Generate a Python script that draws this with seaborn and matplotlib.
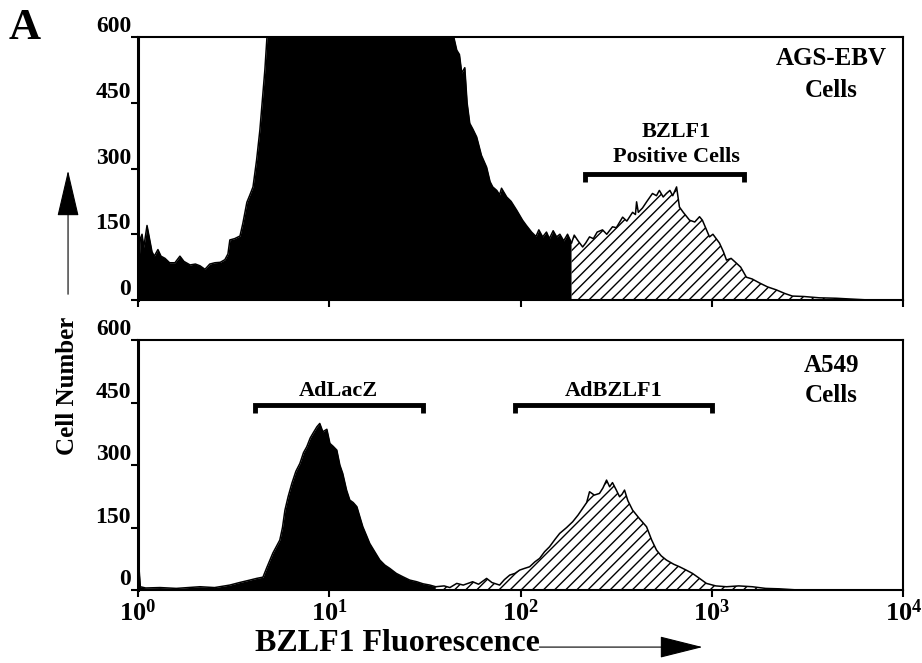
import matplotlib
matplotlib.use('Agg')
import matplotlib.pyplot as plt
import seaborn as sns
import numpy as np

# Top panel: AGS-EBV cells (log10 fluorescence, cell number)
ags_neg_log = [0.000, 0.004, 0.012, 0.021, 0.030, 0.047, 0.060, 0.073, 0.085, 0.104, 0.120,
               0.141, 0.165, 0.193, 0.219, 0.240, 0.272, 0.300, 0.324, 0.350, 0.375, 0.402,
               0.430, 0.454, 0.470, 0.480, 0.505, 0.533, 0.548, 0.569, 0.585, 0.601, 0.620,
               0.637, 0.663, 0.680, 0.750, 0.900, 1.100, 1.300, 1.500, 1.620, 1.645, 1.666,
               1.680, 1.692, 1.708, 1.720, 1.734, 1.750, 1.770, 1.795, 1.822, 1.840, 1.854,
               1.875, 1.890, 1.900, 1.927, 1.950, 1.979, 2.010, 2.030, 2.057, 2.080, 2.095,
               2.115, 2.135, 2.150, 2.170, 2.188, 2.205, 2.225, 2.245, 2.266]
ags_neg_cnt = [500, 75, 140, 150, 120, 170, 140, 110, 100, 115, 100,
               95, 85, 85, 100, 88, 80, 82, 78, 70, 82, 85,
               86, 92, 105, 137, 140, 146, 175, 223, 240, 258, 320,
               388, 525, 640, 780, 900, 950, 900, 750, 640, 610, 570,
               560, 518, 530, 450, 403, 390, 372, 330, 303, 270, 258,
               250, 240, 255, 235, 225, 205, 182, 170, 155, 145, 160,
               144, 155, 140, 158, 144, 150, 135, 150, 130]

ags_pos_log = [2.266, 2.280, 2.300, 2.324, 2.340, 2.360, 2.380, 2.400, 2.428, 2.450, 2.480,
               2.500, 2.533, 2.555, 2.585, 2.600, 2.606, 2.615, 2.637, 2.660, 2.689, 2.710,
               2.725, 2.745, 2.762, 2.780, 2.795, 2.815, 2.830, 2.850, 2.883, 2.910, 2.935,
               2.950, 2.987, 3.005, 3.039, 3.060, 3.076, 3.100, 3.128, 3.150, 3.180, 3.210,
               3.248, 3.290, 3.337, 3.380, 3.420, 3.480, 3.561, 3.650, 3.734, 3.822]
ags_pos_cnt = [130, 148, 135, 121, 130, 144, 140, 155, 160, 150, 167,
               165, 189, 180, 200, 195, 224, 200, 210, 225, 243, 238,
               250, 235, 243, 250, 238, 258, 212, 200, 182, 178, 190,
               182, 144, 150, 130, 110, 91, 95, 84, 75, 52, 48,
               39, 30, 23, 15, 9, 8, 5, 4, 2, 0]

# Bottom panel: A549 cells
lacz_log = [0.000, 0.004, 0.012, 0.040, 0.115, 0.200, 0.324, 0.400, 0.480, 0.530, 0.585,
            0.620, 0.653, 0.674, 0.705, 0.741, 0.755, 0.768, 0.785, 0.804, 0.825, 0.846,
            0.865, 0.882, 0.900, 0.914, 0.935, 0.950, 0.966, 0.987, 1.003, 1.020, 1.039,
            1.055, 1.070, 1.090, 1.107, 1.125, 1.144, 1.160, 1.175, 1.195, 1.211, 1.240,
            1.264, 1.290, 1.316, 1.350, 1.384, 1.420, 1.457, 1.490, 1.525, 1.556]
lacz_cnt = [340, 60, 8, 5, 6, 4, 8, 6, 12, 18, 24,
            28, 31, 55, 89, 120, 150, 192, 225, 256, 285, 304,
            330, 344, 365, 376, 392, 400, 380, 386, 352, 345, 336,
            300, 280, 240, 216, 210, 200, 175, 152, 130, 112, 90,
            72, 60, 52, 40, 32, 24, 20, 15, 12, 8]

bzlf1_log = [1.556, 1.600, 1.630, 1.666, 1.700, 1.749, 1.780, 1.822, 1.850, 1.890, 1.915,
             1.943, 1.970, 1.995, 2.020, 2.047, 2.075, 2.099, 2.125, 2.151, 2.180, 2.204,
             2.240, 2.272, 2.300, 2.324, 2.345, 2.360, 2.385, 2.412, 2.430, 2.449, 2.465,
             2.480, 2.500, 2.517, 2.530, 2.543, 2.560, 2.585, 2.620, 2.658, 2.685, 2.710,
             2.735, 2.762, 2.800, 2.830, 2.865, 2.898, 2.935, 2.971, 3.020, 3.076, 3.140,
             3.211, 3.280, 3.352, 3.457]
bzlf1_cnt = [8, 10, 6, 16, 12, 20, 14, 28, 18, 12, 25,
             36, 40, 48, 52, 56, 68, 76, 92, 104, 122, 136,
             150, 164, 180, 196, 210, 236, 228, 232, 245, 264, 248,
             258, 240, 224, 230, 240, 215, 192, 172, 152, 120, 96,
             82, 72, 62, 56, 48, 40, 28, 16, 10, 8, 10,
             8, 4, 3, 0]

yticks = [0, 150, 300, 450, 600]
xticks = [1, 10, 100, 1000, 10000]
xtick_labels = [r'$10^{0}$', r'$10^{1}$', r'$10^{2}$', r'$10^{3}$', r'$10^{4}$']

sns.set_style('ticks')
plt.rcParams['font.family'] = ['Liberation Serif', 'DejaVu Serif']
plt.rcParams['font.weight'] = 'bold'
plt.rcParams['text.color'] = 'black'
plt.rcParams['axes.labelcolor'] = 'black'
plt.rcParams['axes.edgecolor'] = 'black'
plt.rcParams['xtick.color'] = 'black'
plt.rcParams['ytick.color'] = 'black'
plt.rcParams['mathtext.fontset'] = 'custom'
plt.rcParams['mathtext.rm'] = 'Liberation Serif:bold'
plt.rcParams['mathtext.it'] = 'Liberation Serif:bold'
plt.rcParams['mathtext.bf'] = 'Liberation Serif:bold'
plt.rcParams['mathtext.default'] = 'rm'
plt.rcParams['hatch.linewidth'] = 1.0
plt.rcParams['hatch.color'] = 'black'

fig = plt.figure(figsize=(9.22, 6.63), dpi=100)
ax1 = fig.add_axes([0.1497, 0.5475, 0.830, 0.3967])
ax2 = fig.add_axes([0.1497, 0.110, 0.830, 0.377])


def draw(ax, logs, cnts, hatched):
    x = 10 ** np.array(logs)
    if hatched:
        ax.fill_between(x, cnts, facecolor='white', edgecolor='black', hatch='///', linewidth=0)
    else:
        ax.fill_between(x, cnts, color='black', linewidth=0)
    sns.lineplot(x=x, y=cnts, ax=ax, color='black', linewidth=1.1, sort=False)


draw(ax1, ags_neg_log, ags_neg_cnt, False)
draw(ax1, ags_pos_log, ags_pos_cnt, True)
draw(ax2, lacz_log, lacz_cnt, False)
draw(ax2, bzlf1_log, bzlf1_cnt, True)

for ax in (ax1, ax2):
    ax.set_xscale('log')
    ax.set_xlim(1, 10000)
    ax.set_ylim(0, 600)
    ax.set_yticks(yticks)
    ax.set_yticklabels([str(v) for v in yticks], fontsize=17, fontweight='bold')
    for lab in ax.get_yticklabels():
        lab.set_verticalalignment('bottom')
    ax.set_xticks(xticks)
    ax.minorticks_off()
    ax.tick_params(axis='both', direction='out', length=5, width=1.5, pad=0)
    for s in ax.spines.values():
        s.set_visible(True)
        s.set_linewidth(1.5)
    ax.spines['left'].set_linewidth(2.2)
    ax.set_xlabel('')
    ax.set_ylabel('')

ax1.set_xticklabels([''] * len(xticks))
ax2.set_xticklabels(xtick_labels, fontsize=19)
ax2.tick_params(axis='x', pad=2)


def bracket(ax, x0, x1, y, drop):
    ax.plot([x0, x0, x1, x1], [y - drop, y, y, y - drop], color='black', linewidth=3.5,
            solid_capstyle='butt', solid_joinstyle='miter')


# top panel annotations
bracket(ax1, 216, 1479, 287, 18)
ax1.text(650, 383, 'BZLF1', ha='center', va='center', fontsize=16, fontweight='bold')
ax1.text(650, 326, 'Positive Cells', ha='center', va='center', fontsize=16, fontweight='bold')
ax1.text(4207, 552, 'AGS-EBV', ha='center', va='center', fontsize=18, fontweight='bold')
ax1.text(4207, 479, 'Cells', ha='center', va='center', fontsize=18, fontweight='bold')

# bottom panel annotations
bracket(ax2, 4.08, 30.8, 444, 20)
bracket(ax2, 93, 1006, 444, 20)
ax2.text(11.2, 478, 'AdLacZ', ha='center', va='center', fontsize=16, fontweight='bold')
ax2.text(306, 478, 'AdBZLF1', ha='center', va='center', fontsize=16, fontweight='bold')
ax2.text(4207, 540, 'A549', ha='center', va='center', fontsize=18, fontweight='bold')
ax2.text(4207, 468, 'Cells', ha='center', va='center', fontsize=18, fontweight='bold')

# panel letter and axis titles with arrows
fig.text(0.027, 0.958, 'A', ha='center', va='center', fontsize=32, fontweight='bold')
fig.text(0.0727, 0.418, 'Cell Number', rotation=90, ha='center', va='center',
         fontsize=18, fontweight='bold')
fig.text(0.277, 0.030, 'BZLF1 Fluorescence', ha='left', va='center',
         fontsize=23, fontweight='bold')
fig.add_artist(matplotlib.patches.FancyArrowPatch(
    (0.0738, 0.552), (0.0738, 0.747), transform=fig.transFigure,
    arrowstyle='-|>,head_length=1.5,head_width=0.35', mutation_scale=20,
    color='black', linewidth=0.8))
fig.add_artist(matplotlib.patches.FancyArrowPatch(
    (0.582, 0.024), (0.765, 0.024), transform=fig.transFigure,
    arrowstyle='-|>,head_length=1.4,head_width=0.35', mutation_scale=20,
    color='black', linewidth=0.8))

fig.savefig('out.png', dpi=100)
